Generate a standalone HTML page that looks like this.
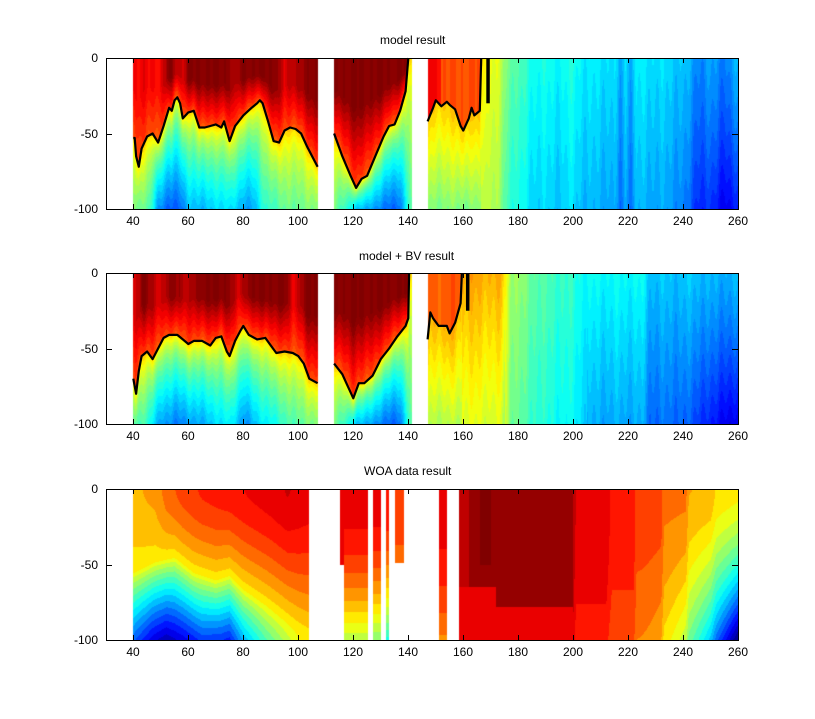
<!DOCTYPE html>
<html><head><meta charset="utf-8"><style>
body{margin:0;background:#fff;width:815px;height:719px;overflow:hidden;position:relative;font-family:"Liberation Sans",Arial,sans-serif;font-size:12px;color:#000}
canvas{position:absolute;left:106px;width:632px;height:151px}
.t{position:absolute;white-space:nowrap}
.xl{position:absolute;width:40px;margin-left:-20px;text-align:center}
.yl{position:absolute;right:717px;text-align:right;line-height:14px;margin-top:-7px}
svg{position:absolute;left:0;top:0}
</style></head><body>
<canvas id="c1" width="632" height="151" style="top:58px"></canvas>
<canvas id="c2" width="632" height="151" style="top:273px"></canvas>
<canvas id="c3" width="632" height="151" style="top:489px"></canvas>
<svg id="ov" width="815" height="719"></svg>
<div class="t" style="left:380px;top:33px">model result</div>
<div class="t" style="left:359px;top:249px">model + BV result</div>
<div class="t" style="left:364px;top:464px">WOA data result</div>
<script>
function cl(v){return v<0?0:v>1?1:v}
function jet(v){v=cl(v);return [cl(1.5-Math.abs(4*v-3)),cl(1.5-Math.abs(4*v-2)),cl(1.5-Math.abs(4*v-1))]}
function ip(p,x){if(x<=p[0][0])return p[0][1];for(var i=1;i<p.length;i++){if(x<=p[i][0]){var a=p[i-1],b=p[i];return a[1]+(b[1]-a[1])*(x-a[0])/(b[0]-a[0]);}}return p[p.length-1][1]}
var L1a=[[40,53],[40.5,53],[41,65],[42,72],[43,60],[45,52],[47,50],[49,56],[51,45],[53,33],[54,35],[55,28],[56,26],[57,30],[58,40],[60,36],[62,35],[64,46],[66,46],[68,45],[70,44],[72,46],[73,42],[75,55],[77,45],[80,38],[83,33],[85,30],[86,28],[87,30],[89,42],[91,55],[93,56],[95,48],[97,46],[99,47],[101,50],[103,58],[105,65],[107,72]];
var L1b=[[113,50],[116,65],[119,78],[121,86],[123,80],[125,78],[128,65],[131,52],[133,45],[135,44],[137,35],[139,22],[140,0]];
var L1c=[[147,42],[149,33],[150,28],[152,32],[154,29],[155,31],[157,34],[159,45],[160,48],[162,40],[163,33],[164,38],[166,35],[166.5,0]];
var L2a=[[40,70],[41,80],[42,65],[43,55],[45,52],[47,57],[49,50],[51,43],[53,41],[56,41],[58,44],[60,47],[62,45],[65,45],[68,48],[70,43],[72,42],[74,52],[75,55],[77,45],[79,38],[80,35],[82,41],[85,44],[88,43],[90,48],[92,53],[95,52],[98,53],[100,55],[102,60],[104,70],[107,73]];
var L2b=[[113,60],[116,67],[118,75],[120,83],[122,73],[124,73],[127,68],[130,57],[133,50],[136,42],[139,35],[140,30],[140.3,0]];
var L2c=[[147,44],[148,26],[149,30],[151,35],[154,35],[155,40],[157,33],[159,20],[159.5,0]];
var b1=[[40,0.5],[46,0.45],[49,0.28],[53,0.2],[57,0.23],[60,0.3],[65,0.31],[70,0.33],[75,0.36],[80,0.28],[84,0.3],[88,0.42],[95,0.47],[107,0.5],[113,0.48],[118,0.42],[121,0.31],[126,0.3],[131,0.23],[137,0.23],[140,0.4],[141,0.48]];
var b2=[[40,0.47],[45,0.42],[50,0.28],[55,0.25],[62,0.28],[70,0.33],[75,0.38],[80,0.26],[85,0.33],[92,0.4],[100,0.47],[107,0.5],[113,0.48],[118,0.42],[121,0.31],[126,0.3],[131,0.23],[137,0.23],[140,0.4],[141,0.48]];
var tt1=[[40,0.88],[50,0.88],[53,1],[58,0.92],[60,1],[75,1],[77,0.93],[80,1],[92,1],[95,0.9],[100,0.97],[107,1],[113,1],[141,1]];
var tt2=[[40,0.9],[44,1],[50,0.92],[55,1],[60,0.93],[65,1],[75,1],[78,0.9],[82,1],[95,1],[98,0.9],[103,1],[107,1],[113,1],[141,1]];
var r1=[[166,0.63],[172,0.6],[176,0.5],[180,0.45],[185,0.4],[195,0.38],[200,0.4],[205,0.36],[215,0.35],[217,0.28],[219,0.35],[221,0.3],[223,0.36],[230,0.35],[240,0.32],[245,0.26],[250,0.28],[255,0.25],[260,0.3]];
var r2=[[160,0.72],[174,0.7],[177,0.55],[182,0.5],[190,0.45],[200,0.42],[205,0.38],[225,0.38],[228,0.32],[245,0.32],[250,0.3],[260,0.3]];
function model(x,z,p){
 var inA=x>=40&&x<=107,inB=x>=113&&x<=141.2,inC=x>=147&&x<=260;
 if(!(inA||inB||inC))return null;
 var st=0.012*Math.sin(x*1.9)+0.01*Math.sin(x*0.73+1);
 if(inA||inB){
  var L=ip(p==1?(inA?L1a:L1b):(inA?L2a:L2b),x);
  if(inB&&x>140.2)L=0;
  var t=z-L,v;
  if(t<0){var tt=ip(p==1?tt1:tt2,x);v=0.8+(tt-0.8)*cl(-t/(L*0.6+1));}
  else{var b=ip(p==1?b1:b2,x);v=0.7+(b-0.7)*Math.pow(t/(100-L+0.01),0.55);}
  return v+st;
 }
 if(p==1){
  var rv=ip(r1,x)-0.06*z/100; if(x>238)rv-=0.1*(x-238)/22*Math.pow(z/100,1.5);
  rv+=st;
  if(x<166.5){var L=ip(L1c,x),t=z-L,v;
   if(t<0)v=0.8+(x<152?0.08:0);else v=0.68-0.18*t/(100-L);
   return v+st;}
  if(x<170){var w=(x-166.5)/3.5;return (0.66-0.1*z/100)*(1-w)+rv*w;}
  return rv;
 } else {
  var rv=ip(r2,x)-(x<175?0.12:0.05)*z/100; if(x>205)rv-=0.04*z/100; if(x>238)rv-=0.12*(x-238)/22*Math.pow(z/100,1.5);
  rv+=st;
  if(x<159.5){var L=ip(L2c,x),t=z-L,v;
   if(t<0)v=0.79;else v=0.7-0.15*t/(100-L);return v+st;}
  return rv;
 }
}
function woa(x,z){
 if(x>=40&&x<=104){
  var t=ip([[40,0.7],[48,0.72],[52,0.77],[58,0.81],[65,0.84],[75,0.86],[82,0.88],[90,0.9],[96,0.92],[104,0.9]],x);
  var d0=ip([[40,55],[48,48],[55,45],[62,55],[70,60],[75,57],[80,66],[88,76],[95,86],[100,94],[104,99]],x);
  var b=ip([[40,0.22],[47,0.1],[52,0.05],[58,0.1],[65,0.18],[72,0.17],[75,0.15],[80,0.3],[88,0.45],[95,0.55],[100,0.62],[104,0.65]],x);
  if(z<d0)return t-(t-0.64)*Math.pow(z/d0,1.6);
  return 0.64-(0.64-b)*Math.pow((z-d0)/(100-d0),0.8);
 }
 var S=[[115,116.5,50,0.9,0.9],[116.5,125.5,100,0.9,0.55],[127,130,100,0.9,0.5],[132,133,100,0.87,0.4],[135,138.5,49,0.8,0.74],[151,154,100,0.9,0.74]];
 for(var i=0;i<S.length;i++){var s=S[i];if(x>=s[0]&&x<=s[1]){if(z>s[2])return null;return s[3]-(s[3]-s[4])*Math.pow(z/100,2);}}
 if(x>=158.4){
  var v=ip([[158.4,0.95],[163,0.96],[166,1],[170,1],[172,0.96],[176,0.96],[178,1],[179.5,0.96],[200,0.96],[201,0.91],[212,0.91],[214,0.86],[222,0.86],[223,0.81],[232,0.81],[233,0.76],[241,0.76],[242,0.71],[250,0.7],[252,0.66],[260,0.64]],x);
  if(z>50&&v>0.98)v=0.96;
  if(x<200){if(z>(x<172?65:78))v=0.91;if(z>92&&x<195)v=0.88;}
  else v-=0.06*Math.pow(z/100,2);
  var k=cl((x-222)/38);v-=0.6*k*k*Math.pow(z/100,1.5);
  return v;
 }
 return null;
}
function draw(id,f,q){
 var c=document.getElementById(id),ctx=c.getContext('2d'),im=ctx.createImageData(632,151),d=im.data;
 for(var py=0;py<151;py++){var z=(py+0.5)/1.51;
  for(var px=0;px<632;px++){var x=40+(106+px+0.5-133.3)/2.75;var v=f(x,z),o=(py*632+px)*4;
   if(v===null){d[o]=d[o+1]=d[o+2]=255;}else{v=Math.floor(cl(v)*q)/q+0.5/q;var c3=jet(v);d[o]=c3[0]*255;d[o+1]=c3[1]*255;d[o+2]=c3[2]*255;}
   d[o+3]=255;}}
 ctx.putImageData(im,0,0);
}
draw('c1',function(x,z){return model(x,z,1)},40);
draw('c2',function(x,z){return model(x,z,2)},40);
draw('c3',woa,24);
var svg='',tops=[58,273,489];
function X(x){return 133.3+(x-40)*2.75}
function pl(pts,top){return '<polyline fill="none" stroke="#000" stroke-width="2.2" stroke-linejoin="round" points="'+pts.map(function(p){return X(p[0]).toFixed(1)+','+(top+p[1]*1.51).toFixed(1)}).join(' ')+'"/>'}
svg+=pl(L1a,58)+pl(L1b,58)+pl(L1c,58)+'<line x1="'+X(169)+'" y1="58" x2="'+X(169)+'" y2="'+(58+30*1.51)+'" stroke="#000" stroke-width="3.5"/>';
svg+=pl(L2a,273)+pl(L2b,273)+pl(L2c,273)+'<line x1="'+X(161.6)+'" y1="273" x2="'+X(161.6)+'" y2="'+(273+25*1.51)+'" stroke="#000" stroke-width="3.5"/>';
tops.forEach(function(t){
 var b=t+151;
 svg+='<rect x="106.5" y="'+(t+0.5)+'" width="632" height="151" fill="none" stroke="#000" stroke-width="1"/>';
 for(var v=40;v<=260;v+=20){var xx=Math.round(X(v))+0.5;svg+='<path d="M'+xx+' '+b+'v-5M'+xx+' '+t+'v5" stroke="#000"/>';}
 [0,50,100].forEach(function(z){var yy=Math.round(t+z*1.51)+0.5;svg+='<path d="M106 '+yy+'h6M738 '+yy+'h-6" stroke="#000"/>';});
});
document.getElementById('ov').innerHTML=svg;
</script>
<div class="xl" style="left:133px;top:214px">40</div><div class="xl" style="left:188px;top:214px">60</div><div class="xl" style="left:243px;top:214px">80</div><div class="xl" style="left:298px;top:214px">100</div><div class="xl" style="left:353px;top:214px">120</div><div class="xl" style="left:408px;top:214px">140</div><div class="xl" style="left:463px;top:214px">160</div><div class="xl" style="left:518px;top:214px">180</div><div class="xl" style="left:573px;top:214px">200</div><div class="xl" style="left:628px;top:214px">220</div><div class="xl" style="left:683px;top:214px">240</div><div class="xl" style="left:738px;top:214px">260</div>
<div class="xl" style="left:133px;top:429px">40</div><div class="xl" style="left:188px;top:429px">60</div><div class="xl" style="left:243px;top:429px">80</div><div class="xl" style="left:298px;top:429px">100</div><div class="xl" style="left:353px;top:429px">120</div><div class="xl" style="left:408px;top:429px">140</div><div class="xl" style="left:463px;top:429px">160</div><div class="xl" style="left:518px;top:429px">180</div><div class="xl" style="left:573px;top:429px">200</div><div class="xl" style="left:628px;top:429px">220</div><div class="xl" style="left:683px;top:429px">240</div><div class="xl" style="left:738px;top:429px">260</div>
<div class="xl" style="left:133px;top:645px">40</div><div class="xl" style="left:188px;top:645px">60</div><div class="xl" style="left:243px;top:645px">80</div><div class="xl" style="left:298px;top:645px">100</div><div class="xl" style="left:353px;top:645px">120</div><div class="xl" style="left:408px;top:645px">140</div><div class="xl" style="left:463px;top:645px">160</div><div class="xl" style="left:518px;top:645px">180</div><div class="xl" style="left:573px;top:645px">200</div><div class="xl" style="left:628px;top:645px">220</div><div class="xl" style="left:683px;top:645px">240</div><div class="xl" style="left:738px;top:645px">260</div>
<div class="yl" style="top:58px">0</div><div class="yl" style="top:134px">-50</div><div class="yl" style="top:209px">-100</div>
<div class="yl" style="top:273px">0</div><div class="yl" style="top:349px">-50</div><div class="yl" style="top:424px">-100</div>
<div class="yl" style="top:489px">0</div><div class="yl" style="top:565px">-50</div><div class="yl" style="top:640px">-100</div>
</body></html>
